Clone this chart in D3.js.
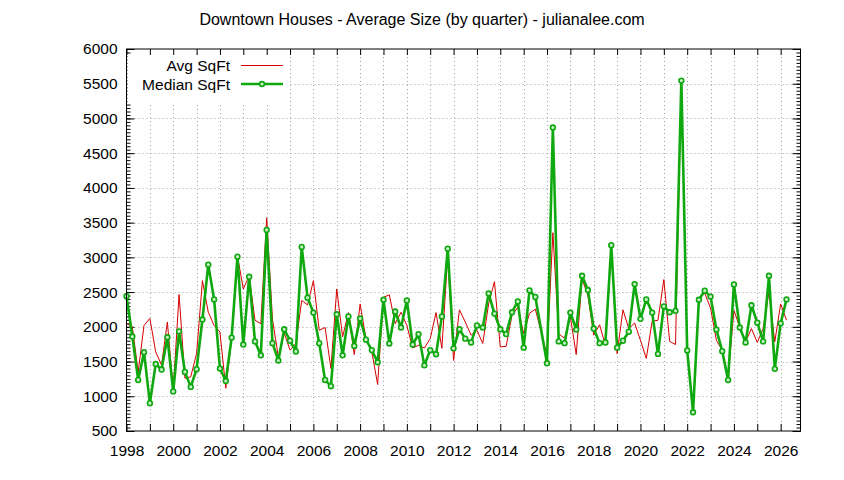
<!DOCTYPE html>
<html>
<head>
<meta charset="utf-8">
<script src="https://cdn.jsdelivr.net/npm/d3@7"></script>
<style>
  body { margin: 0; background: #fff; }
  text { font-family: "Liberation Sans", Arial, sans-serif; }
</style>
</head>
<body>
<div id="chart"></div>
<script>
// quarterly values, first entry is 1998 Q1; null = quarter not in the data
const startYear = 1998
const avgSqft = [
  2050, 2000, 1350, 2020, 2120, 1640, 1450, 2070,   // 1998-1999
  1090, 2465, 1260, 1280, 1615, 2665, 2210, 2020,   // 2000-2001
  1925, 1115, 1830, 3020, 2545, 2735, 2095, 2045,   // 2002-2003
  3570, 2100, 1570, 1910, 1665, 1760, 2380, 2315,   // 2004-2005
  2665, 1950, 1990, 1400, 2545, 1855, 2205, 1600,   // 2006-2007
  2330, 1830, 1640, 1170, 2425, 2460, 2045, 2210,   // 2008-2009
  2020, 1695, 1735, 1695, 1830, 2205, 1690, 3025,   // 2010-2011
  1515, 2245, 2070, 1880, 1950, 1760, 2330, 2650,   // 2012-2013
  1710, 1720, 2165, 2280, 1905, 2195, 2255, null,   // 2014-2015
  1590, 3355, 1900, 1835, 2140, 1600, 2690, 2450,   // 2016-2017
  1880, 2030, 1735, 3140, 1615, 2245, 1975, 2055,   // 2018-2019
  1805, 1545, 2080, 2095, 2680, 1790, 1745, 5545,   // 2020-2021
  1660, 770, 2405, 2485, 2270, 1805, 1665, 1260,    // 2022-2023
  2235, 1995, 1785, 1975, 1775, 1975, 2500, 1785,   // 2024-2025
  2330, 2095                                        // 2026
]
const medianSqft = [
  2440, 1860, 1235, 1635, 900, 1465, 1385, 1850,
  1070, 1935, 1350, 1135, 1390, 2105, 2895, 2395,
  1400, 1220, 1845, 3010, 1745, 2720, 1790, 1590,
  3395, 1765, 1515, 1965, 1800, 1645, 3150, 2420,
  2205, 1765, 1235, 1145, 2180, 1590, 2150, 1725,
  2120, 1815, 1665, 1490, 2390, 1760, 2220, 1990,
  2380, 1745, 1895, 1445, 1665, 1605, 2150, 3125,
  1690, 1965, 1830, 1775, 2020, 1990, 2480, 2190,
  1965, 1895, 2210, 2365, 1700, 2525, 2430, null,
  1475, 4870, 1790, 1765, 2205, 1960, 2735, 2530,
  1975, 1765, 1775, 3175, 1700, 1800, 1930, 2615,
  2115, 2395, 2205, 1610, 2295, 2210, 2230, 5545,
  1660, 770, 2390, 2520, 2435, 1960, 1650, 1235,
  2610, 1990, 1775, 2310, 2060, 1790, 2735, 1395,
  2050, 2395
]
const xTickYears = d3.range(1998, 2027)
const yTicks = d3.range(500, 6001, 500)
const yMinorTicks = d3.range(500, 6001, 50)
const titleText = "Downtown Houses - Average Size (by quarter) - julianalee.com"
const seriesNames = ["Avg SqFt", "Median SqFt"]

const width = 844
const height = 480
const plotLeft = 126.5, plotRight = 800.5, plotTop = 49, plotBottom = 431
const red = "#d40000"
const green = "#0fa80f"
const fontSize = 15.5

let svg = d3.select("#chart")
  .append("svg")
  .attr("width", width)
  .attr("height", height)

svg.append("rect").attr("width", width).attr("height", height).attr("fill", "#fff")

let x = d3.scaleLinear().domain([1998, 2026.85]).range([plotLeft, plotRight])
let y = d3.scaleLinear().domain([500, 6000]).range([plotBottom, plotTop])

// grid
let grid = svg.append("g")
  .attr("stroke", "#a0a0a0")
  .attr("stroke-width", 1)
  .attr("stroke-dasharray", "1,3")
grid.selectAll(".gx")
  .data(xTickYears.filter(d => d > 1998))
  .enter().append("line")
  .attr("x1", d => Math.round(x(d)) + 0.5).attr("x2", d => Math.round(x(d)) + 0.5)
  .attr("y1", plotTop).attr("y2", plotBottom)
grid.selectAll(".gy")
  .data(yTicks.filter(d => d > 500 && d < 6000))
  .enter().append("line")
  .attr("y1", d => Math.round(y(d)) + 0.5).attr("y2", d => Math.round(y(d)) + 0.5)
  .attr("x1", plotLeft).attr("x2", plotRight)

// axes
function styleAxis(g) {
  g.select(".domain").remove()
  g.selectAll("line").attr("stroke", "#000")
  g.selectAll("text").attr("font-size", fontSize).attr("fill", "#000")
}

svg.append("g")
  .attr("transform", `translate(0,${plotBottom})`)
  .call(d3.axisBottom(x).tickValues(xTickYears).tickSize(-7).tickPadding(14)
    .tickFormat(d => d % 2 === 0 ? d : ""))
  .call(styleAxis)
svg.append("g")
  .attr("transform", `translate(0,${plotTop})`)
  .call(d3.axisTop(x).tickValues(xTickYears).tickSize(-6).tickFormat(""))
  .call(styleAxis)
svg.append("g")
  .attr("transform", `translate(${plotLeft},0)`)
  .call(d3.axisLeft(y).tickValues(yTicks).tickSize(-8).tickPadding(9).tickFormat(d3.format("d")))
  .call(styleAxis)
svg.append("g")
  .attr("transform", `translate(${plotLeft},0)`)
  .call(d3.axisLeft(y).tickValues(yMinorTicks).tickSize(-4).tickFormat(""))
  .call(styleAxis)
svg.append("g")
  .attr("transform", `translate(${plotRight},0)`)
  .call(d3.axisRight(y).tickValues(yTicks).tickSize(-8).tickFormat(""))
  .call(styleAxis)
svg.append("g")
  .attr("transform", `translate(${plotRight},0)`)
  .call(d3.axisRight(y).tickValues(yMinorTicks).tickSize(-4).tickFormat(""))
  .call(styleAxis)

// data
let toPoints = arr => arr.map((v, i) => ({ t: startYear + i / 4, v: v })).filter(d => d.v !== null)
let avgPts = toPoints(avgSqft)
let medPts = toPoints(medianSqft)

let line = d3.line().x(d => x(d.t)).y(d => y(d.v))

svg.append("path")
  .datum(avgPts)
  .attr("d", line)
  .attr("fill", "none")
  .attr("stroke", red)
  .attr("stroke-width", 1)

svg.append("path")
  .datum(medPts)
  .attr("d", line)
  .attr("fill", "none")
  .attr("stroke", green)
  .attr("stroke-width", 2.6)
  .attr("stroke-linejoin", "round")

svg.selectAll(".pt")
  .data(medPts)
  .enter().append("circle")
  .attr("class", "pt")
  .attr("cx", d => x(d.t))
  .attr("cy", d => y(d.v))
  .attr("r", 2.4)
  .attr("fill", "#c9ecc9")
  .attr("stroke", green)
  .attr("stroke-width", 1.6)

// border
svg.append("rect")
  .attr("x", plotLeft).attr("y", plotTop)
  .attr("width", plotRight - plotLeft).attr("height", plotBottom - plotTop)
  .attr("fill", "none").attr("stroke", "#000").attr("stroke-width", 1)

// legend (opaque key)
let key = svg.append("g")
key.append("rect")
  .attr("x", plotLeft + 1).attr("y", 55)
  .attr("width", 289 - plotLeft - 1).attr("height", 48)
  .attr("fill", "#fff")
key.selectAll(".ktext")
  .data(seriesNames)
  .enter().append("text")
  .attr("x", 230)
  .attr("y", (d, i) => 65 + i * 19)
  .attr("dy", "0.36em")
  .attr("text-anchor", "end")
  .attr("font-size", fontSize)
  .text(d => d)
key.append("line")
  .attr("x1", 241).attr("x2", 283).attr("y1", 65.5).attr("y2", 65.5)
  .attr("stroke", red).attr("stroke-width", 1)
key.append("line")
  .attr("x1", 241).attr("x2", 283).attr("y1", 84).attr("y2", 84)
  .attr("stroke", green).attr("stroke-width", 2.6)
key.append("circle")
  .attr("cx", 262).attr("cy", 84).attr("r", 2.4)
  .attr("fill", "#c9ecc9").attr("stroke", green).attr("stroke-width", 1.6)

// title
svg.append("text")
  .attr("x", width / 2)
  .attr("y", 25)
  .attr("text-anchor", "middle")
  .attr("font-size", 16)
  .text(titleText)
</script>
</body>
</html>
